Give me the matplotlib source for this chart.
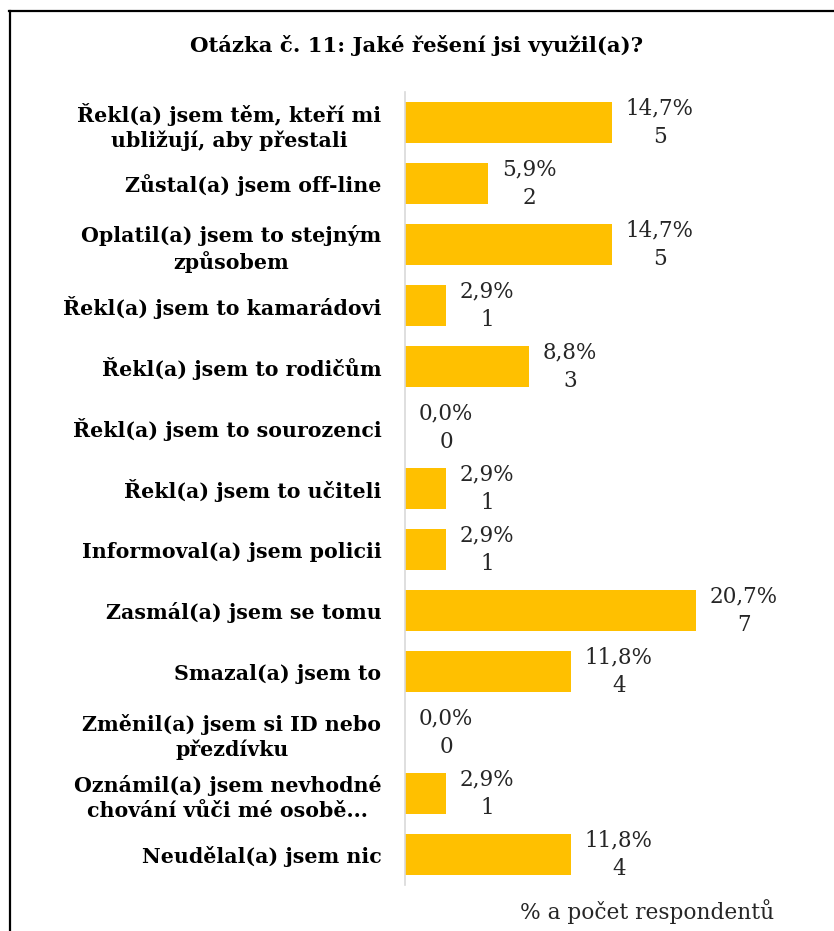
import matplotlib.pyplot as plt
from matplotlib.lines import Line2D

categories = [
    "Řekl(a) jsem těm, kteří mi\nubližují, aby přestali",
    "Zůstal(a) jsem off-line",
    "Oplatil(a) jsem to stejným\nzpůsobem",
    "Řekl(a) jsem to kamarádovi",
    "Řekl(a) jsem to rodičům",
    "Řekl(a) jsem to sourozenci",
    "Řekl(a) jsem to učiteli",
    "Informoval(a) jsem policii",
    "Zasmál(a) jsem se tomu",
    "Smazal(a) jsem to",
    "Změnil(a) jsem si ID nebo\npřezdívku",
    "Oznámil(a) jsem nevhodné\nchování vůči mé osobě...",
    "Neudělal(a) jsem nic",
]
percent = [14.7, 5.9, 14.7, 2.9, 8.8, 0.0, 2.9, 2.9, 20.7, 11.8, 0.0, 2.9, 11.8]
counts = [5, 2, 5, 1, 3, 0, 1, 1, 7, 4, 0, 1, 4]

serif = ["DejaVu Serif"]

fig = plt.figure(figsize=(8.34, 9.31), dpi=100)
ax = fig.add_axes([405 / 834, 1 - 885 / 931, (800 - 405) / 834, (885 - 92) / 931])

y = list(range(len(categories)))
ax.barh(y, percent, height=0.68, color="#FFC000")

for yi, p, c in zip(y, percent, counts):
    txt = f"{p:.1f}%".replace(".", ",") + f"\n{c}"
    ax.annotate(txt, (p, yi), xytext=(10, 0), textcoords="offset points",
                ha="left", va="center", multialignment="center",
                fontsize=15.5, family=serif, color="#262626", linespacing=1.4)

ax.set_xlim(0, 28.1)
ax.set_ylim(len(categories) - 0.5, -0.5)
ax.set_xticks([])
ax.set_yticks(y)
ax.set_yticklabels(categories, fontsize=14.8, fontweight="bold", family=serif,
                   linespacing=1.3)
plt.setp(ax.get_yticklabels(), multialignment="center")
ax.tick_params(axis="y", length=0, pad=17)

for s in ["top", "right", "bottom"]:
    ax.spines[s].set_visible(False)
ax.spines["left"].set_color("#D9D9D9")
ax.spines["left"].set_linewidth(1.2)

fig.text(0.499, 1 - 46 / 931, "Otázka č. 11: Jaké řešení jsi využil(a)?",
         ha="center", va="center", fontsize=15.3, fontweight="bold", family=serif)
fig.text(647 / 834, 1 - 912 / 931, "% a počet respondentů",
         ha="center", va="center", fontsize=15.6, family=serif, color="#262626")

# frame (only top and left edges visible in the original)
fig.add_artist(Line2D([9 / 834, 1], [1 - 11 / 931, 1 - 11 / 931], color="black", lw=1.6,
                      transform=fig.transFigure))
fig.add_artist(Line2D([10 / 834, 10 / 834], [0, 1 - 11 / 931], color="black", lw=1.6,
                      transform=fig.transFigure))

fig.savefig("out.png", dpi=100)
